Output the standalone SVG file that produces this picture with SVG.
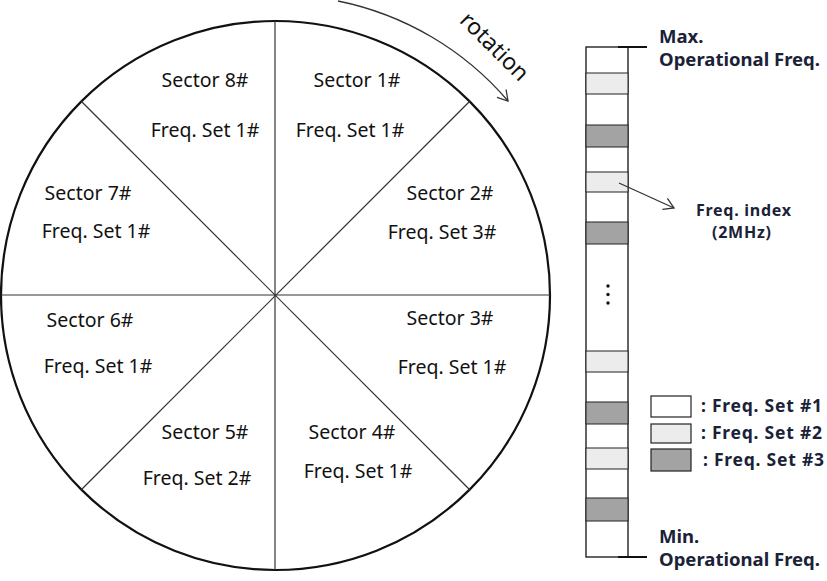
<svg xmlns="http://www.w3.org/2000/svg" width="827" height="581" viewBox="0 0 827 581">
  <style>
    .sec { font-family: "Noto Sans", "Liberation Sans", sans-serif; font-size: 19.5px; fill: #111; text-anchor: middle; }
    .bold { font-family: "Noto Sans", "Liberation Sans", sans-serif; font-weight: bold; fill: #1a2238; }
    .spoke { stroke: #333; stroke-width: 1.2; fill: none; }
    .row { stroke: #222; stroke-width: 1; }
    .light { fill: #ececec; }
    .dark { fill: #a3a3a3; }
    .white { fill: #fff; }
    .conn { stroke: #333; stroke-width: 1.3; fill: none; }
  </style>
  <defs>
    <marker id="openArrow" markerWidth="14" markerHeight="14" refX="11" refY="7" orient="auto" markerUnits="userSpaceOnUse">
      <path d="M1,1 L11,7 L1,13" fill="none" stroke="#333" stroke-width="1.3"/>
    </marker>
  </defs>
  <rect width="827" height="581" fill="#fff"/>

  <g id="wheel">
    <circle cx="275.5" cy="295.5" r="274.5" fill="#fff" stroke="#111" stroke-width="2.2"/>
    <line class="spoke" x1="275" y1="21" x2="275" y2="570"/>
    <line class="spoke" x1="1" y1="295" x2="550" y2="295"/>
    <line class="spoke" x1="81" y1="101" x2="470" y2="490"/>
    <line class="spoke" x1="470" y1="101" x2="81" y2="490"/>
  </g>

  <g id="sector1"><text class="sec" x="357" y="87">Sector 1#</text><text class="sec" x="350" y="137">Freq. Set 1#</text></g>
  <g id="sector2"><text class="sec" x="450" y="200">Sector 2#</text><text class="sec" x="442" y="239">Freq. Set 3#</text></g>
  <g id="sector3"><text class="sec" x="450" y="325">Sector 3#</text><text class="sec" x="452" y="374">Freq. Set 1#</text></g>
  <g id="sector4"><text class="sec" x="352" y="439">Sector 4#</text><text class="sec" x="358" y="478">Freq. Set 1#</text></g>
  <g id="sector5"><text class="sec" x="205" y="439">Sector 5#</text><text class="sec" x="197" y="485">Freq. Set 2#</text></g>
  <g id="sector6"><text class="sec" x="90" y="327">Sector 6#</text><text class="sec" x="98" y="373">Freq. Set 1#</text></g>
  <g id="sector7"><text class="sec" x="88" y="200">Sector 7#</text><text class="sec" x="96" y="238">Freq. Set 1#</text></g>
  <g id="sector8"><text class="sec" x="205" y="87">Sector 8#</text><text class="sec" x="205" y="137">Freq. Set 1#</text></g>

  <g id="rotation-label">
    <text x="0" y="0" transform="translate(489,52) rotate(45)" style="font-family: 'Noto Sans', 'Liberation Sans', sans-serif; font-size: 23px; fill: #111; text-anchor: middle;">rotation</text>
  </g>

  <g id="freq-bar">
    <rect x="586" y="47" width="42" height="510" fill="#fff" stroke="#111" stroke-width="1.3"/>
    <rect class="light row" x="586" y="73" width="42" height="21"/>
    <rect class="dark row" x="586" y="125" width="42" height="22"/>
    <rect class="light row" x="586" y="172" width="42" height="20"/>
    <rect class="dark row" x="586" y="222" width="42" height="22"/>
    <rect class="light row" x="586" y="351" width="42" height="21"/>
    <rect class="dark row" x="586" y="402" width="42" height="22"/>
    <rect class="light row" x="586" y="448" width="42" height="21"/>
    <rect class="dark row" x="586" y="498" width="42" height="23"/>
    <line x1="618" y1="47" x2="647" y2="47" stroke="#111" stroke-width="2"/>
    <line x1="618" y1="557" x2="647" y2="557" stroke="#111" stroke-width="2"/>
    <circle cx="608" cy="286" r="1.7" fill="#111"/>
    <circle cx="608" cy="294.5" r="1.7" fill="#111"/>
    <circle cx="608" cy="303" r="1.7" fill="#111"/>
  </g>

  <g id="max-label">
    <text class="bold" x="659" y="43" font-size="18.5">Max.</text>
    <text class="bold" x="659" y="66" font-size="18.5" textLength="161">Operational Freq.</text>
  </g>
  <g id="min-label">
    <text class="bold" x="659" y="543" font-size="18.5">Min.</text>
    <text class="bold" x="659" y="566" font-size="18.5" textLength="161">Operational Freq.</text>
  </g>

  <g id="freq-index-label">
    <text class="bold" x="696" y="216" font-size="16" textLength="95">Freq.  index</text>
    <text class="bold" x="712" y="238" font-size="16" textLength="59">(2MHz)</text>
  </g>

  <g id="legend">
    <rect class="white" x="651" y="396" width="40" height="21" stroke="#222" stroke-width="1.2"/>
    <rect class="light" x="651" y="424" width="40" height="19" stroke="#222" stroke-width="1.2"/>
    <rect class="dark" x="651" y="449" width="40" height="22" stroke="#222" stroke-width="1.2"/>
    <text class="bold" x="701" y="412" font-size="17.5" textLength="121">: Freq. Set #1</text>
    <text class="bold" x="701" y="439" font-size="17.5" textLength="121">: Freq. Set #2</text>
    <text class="bold" x="703" y="466" font-size="17.5" textLength="121">: Freq. Set #3</text>
  </g>

  <g id="connectors">
    <path class="conn" d="M338,1 A303,303 0 0 1 508,101" marker-end="url(#openArrow)"/>
    <line class="conn" x1="619" y1="183" x2="674" y2="208" marker-end="url(#openArrow)"/>
  </g>
</svg>
